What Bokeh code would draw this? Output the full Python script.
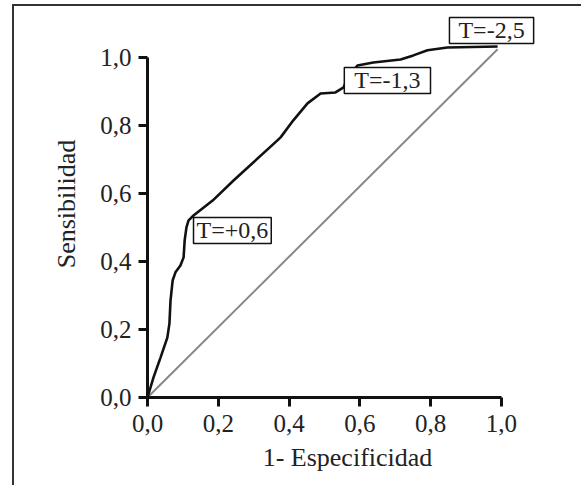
from bokeh.plotting import figure
from bokeh.models import Range1d, Label, FixedTicker
from bokeh.embed import file_html
from bokeh.resources import INLINE

# ROC curve (1 - especificidad, sensibilidad)
fpr = [0.0, 0.017, 0.037, 0.056, 0.062, 0.065, 0.071, 0.079, 0.093, 0.102, 0.105,
       0.110, 0.116, 0.130, 0.184, 0.243, 0.367, 0.376, 0.412, 0.452, 0.489, 0.531,
       0.554, 0.565, 0.593, 0.638, 0.715, 0.751, 0.791, 0.847, 0.989]
tpr = [0.0, 0.059, 0.118, 0.176, 0.218, 0.285, 0.344, 0.368, 0.388, 0.412, 0.462,
       0.500, 0.521, 0.535, 0.579, 0.638, 0.756, 0.765, 0.815, 0.865, 0.894, 0.897,
       0.912, 0.941, 0.976, 0.985, 0.994, 1.006, 1.021, 1.029, 1.032]

# reference diagonal
diag_x = [0.0, 0.989]
diag_y = [0.0, 1.024]

# threshold labels
thr_text = ["T=+0,6", "T=-1,3", "T=-2,5"]
thr_x = [0.130, 0.556, 0.853]
thr_y = [0.453, 0.894, 1.041]
thr_pad = [3, 10, 9]

ticks = [0.0, 0.2, 0.4, 0.6, 0.8, 1.0]
tick_labels = ["0,0", "0,2", "0,4", "0,6", "0,8", "1,0"]

FONT = "Liberation Serif"
TXT = "#222222"

p = figure(width=569, height=481, output_backend="svg", toolbar_location=None,
           x_range=Range1d(0, 1.13), y_range=Range1d(0, 1.138),
           min_border_left=133, min_border_right=36, min_border_top=4,
           min_border_bottom=90)
p.styles = {"border-left": "2px solid #333333", "border-top": "2px solid #333333",
            "margin-left": "12px", "margin-top": "4px"}
p.outline_line_color = None
p.xgrid.visible = False
p.ygrid.visible = False
p.background_fill_color = "white"
p.border_fill_color = "white"

p.line(diag_x, diag_y, line_color="#888888", line_width=2)
p.line(fpr, tpr, line_color="#111111", line_width=2.6)

for ax in (p.xaxis[0], p.yaxis[0]):
    ax.bounds = (0, 1)
    ax.ticker = FixedTicker(ticks=ticks)
    ax.major_label_overrides = {t: l for t, l in zip(ticks, tick_labels)}
    ax.minor_tick_line_color = None
    ax.axis_line_width = 3
    ax.axis_line_color = "#111111"
    ax.major_tick_line_width = 3
    ax.major_tick_line_color = "#111111"
    ax.major_tick_out = 9
    ax.major_tick_in = 0
    ax.major_label_text_font = FONT
    ax.major_label_text_font_size = "25px"
    ax.major_label_text_color = TXT
    ax.axis_label_text_font = FONT
    ax.axis_label_text_font_size = "26px"
    ax.axis_label_text_color = TXT
    ax.axis_label_text_font_style = "normal"

p.xaxis[0].major_label_standoff = 8
p.yaxis[0].major_label_standoff = 7
p.xaxis[0].axis_label = "1- Especificidad"
p.xaxis[0].axis_label_standoff = 8
p.yaxis[0].axis_label = "Sensibilidad"
p.yaxis[0].axis_label_standoff = 16

for t, x, y, pad in zip(thr_text, thr_x, thr_y, thr_pad):
    p.add_layout(Label(x=x, y=y, text=t, text_font=FONT, text_font_size="24px",
                       text_color=TXT, text_align="left", text_baseline="bottom",
                       border_line_color="#111111", border_line_width=1.5,
                       background_fill_color="white",
                       padding=dict(left=pad, right=pad, top=0, bottom=0)))

open("out.html", "w").write(file_html(p, INLINE))
